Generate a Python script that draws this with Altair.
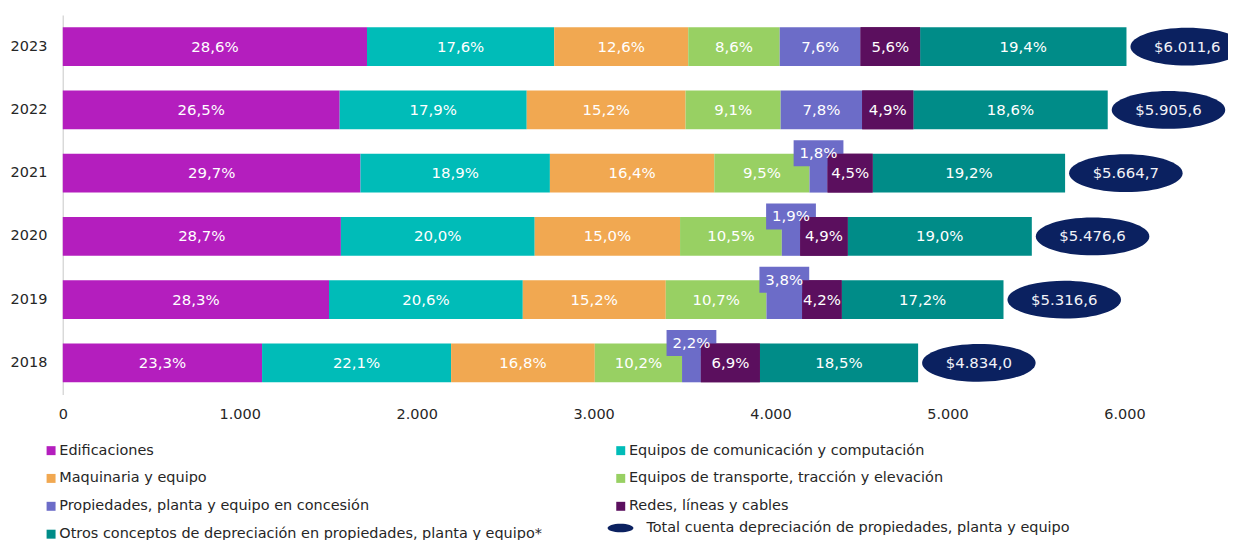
import altair as alt
import pandas as pd

years = ["2023", "2022", "2021", "2020", "2019", "2018"]
categories = [
    "Edificaciones",
    "Equipos de comunicación y computación",
    "Maquinaria y equipo",
    "Equipos de transporte, tracción y elevación",
    "Propiedades, planta y equipo en concesión",
    "Redes, líneas y cables",
    "Otros conceptos de depreciación en propiedades, planta y equipo*",
]
colors = ["#B41EBE", "#00BCB8", "#F1A851", "#98D063", "#6C6CC8", "#5B0F5E", "#008C88"]
navy = "#0B2160"
total_name = "Total cuenta depreciación de propiedades, planta y equipo"

totals = [6011.6, 5905.6, 5664.7, 5476.6, 5316.6, 4834.0]
pct_edif = [28.6, 26.5, 29.7, 28.7, 28.3, 23.3]
pct_comun = [17.6, 17.9, 18.9, 20.0, 20.6, 22.1]
pct_maq = [12.6, 15.2, 16.4, 15.0, 15.2, 16.8]
pct_transp = [8.6, 9.1, 9.5, 10.5, 10.7, 10.2]
pct_conc = [7.6, 7.8, 1.8, 1.9, 3.8, 2.2]
pct_redes = [5.6, 4.9, 4.5, 4.9, 4.2, 6.9]
pct_otros = [19.4, 18.6, 19.2, 19.0, 17.2, 18.5]
callout_years = ["2021", "2020", "2019", "2018"]

series = [pct_edif, pct_comun, pct_maq, pct_transp, pct_conc, pct_redes, pct_otros]

rows = []
for ci, (cat, vals) in enumerate(zip(categories, series)):
    for yi, yr in enumerate(years):
        p = vals[yi]
        rows.append({
            "year": yr,
            "cat": cat,
            "order": ci,
            "value": p * totals[yi] / 100.0,
            "label": f"{p:.1f}%".replace(".", ","),
            "callout": bool(ci == 4 and yr in callout_years),
        })
df = pd.DataFrame(rows)


def fmt_total(v):
    s = f"{v:,.1f}"
    return "$" + s.replace(",", "#").replace(".", ",").replace("#", ".")


tot = pd.DataFrame({
    "year": years,
    "total": totals,
    "label": [fmt_total(t) for t in totals],
    "name": [total_name] * len(years),
})

FONT = "DejaVu Sans"
rect_path = "M -1 -0.52 L 1 -0.52 L 1 0.52 L -1 0.52 Z"
ellipse_path = "M -1 0 A 1 0.333 0 1 1 1 0 A 1 0.333 0 1 1 -1 0 Z"

xscale = alt.Scale(domain=[0, 6000], nice=False)
xaxis = alt.Axis(
    title=None, values=[0, 1000, 2000, 3000, 4000, 5000, 6000],
    labelExpr="replace(format(datum.value, ','), ',', '.')",
    domain=False, ticks=False, grid=False, labelPadding=13, labelFlush=False,
    labelFontSize=14.5, labelColor="#262626", labelFont=FONT,
)
yscale = alt.Scale(paddingInner=0.386, paddingOuter=0.193)
yaxis = alt.Axis(
    title=None, ticks=False, domainColor="#D9D9D9", domainWidth=1.5,
    labelPadding=16, labelFontSize=14.5, labelColor="#262626", labelFont=FONT,
)


def Y():
    return alt.Y("year:N", sort=years, scale=yscale, axis=yaxis)


base = alt.Chart(df).transform_stack(
    stack="value", as_=["x0", "x1"], groupby=["year"],
    sort=[alt.SortField("order", order="ascending")],
).transform_calculate(mid="(datum.x0 + datum.x1) / 2")

bars = base.mark_bar().encode(
    x=alt.X("x0:Q", scale=xscale, axis=xaxis),
    x2="x1:Q",
    y=Y(),
    color=alt.Color(
        "cat:N",
        scale=alt.Scale(domain=categories, range=colors),
        legend=alt.Legend(
            orient="none", legendX=-19, legendY=430, columns=2,
            direction="horizontal",
            columnPadding=71, rowPadding=13, symbolType="square",
            symbolSize=81, symbolStrokeWidth=0, labelFontSize=14.5,
            labelFont=FONT, labelColor="#262626", labelOffset=1,
            labelLimit=700, title=None,
        ),
    ),
)

boxes = base.transform_filter("datum.callout").mark_point(
    shape=rect_path, size=2500, filled=True, opacity=1, fill=colors[4],
    strokeWidth=0, yOffset=-20,
).encode(x=alt.X("mid:Q", scale=xscale, axis=xaxis), y=Y())

redes_top = base.transform_filter(
    alt.datum.cat == categories[5]
).mark_bar(color=colors[5]).encode(
    x=alt.X("x0:Q", scale=xscale, axis=xaxis), x2="x1:Q", y=Y()
)

labels = base.transform_filter("!datum.callout").mark_text(
    color="white", fontSize=15, font=FONT,
).encode(x=alt.X("mid:Q", scale=xscale, axis=xaxis), y=Y(), text="label:N")

callout_labels = base.transform_filter("datum.callout").mark_text(
    color="white", fontSize=15, font=FONT, yOffset=-20,
).encode(x=alt.X("mid:Q", scale=xscale, axis=xaxis), y=Y(), text="label:N")

ellipses = alt.Chart(tot).mark_point(
    size=12996, filled=True, opacity=1, fill=navy, strokeWidth=0, xOffset=61,
).encode(
    x=alt.X("total:Q", scale=xscale, axis=xaxis),
    y=Y(),
    shape=alt.Shape(
        "name:N",
        scale=alt.Scale(domain=[total_name], range=[ellipse_path]),
        legend=alt.Legend(
            orient="none", legendX=547, legendY=502, symbolSize=676,
            symbolFillColor=navy, symbolStrokeWidth=0, labelFontSize=14.5,
            labelFont=FONT, labelColor="#262626", labelOffset=13,
            labelLimit=700, title=None,
        ),
    ),
)

ellipse_text = alt.Chart(tot).mark_text(
    color="#F2F2F7", fontSize=15, font=FONT, xOffset=61,
).encode(x=alt.X("total:Q", scale=xscale, axis=xaxis), y=Y(), text="label:N")

chart = alt.layer(
    bars, boxes, redes_top, labels, callout_labels, ellipses, ellipse_text
).properties(
    width=1066, height=381,
    autosize=alt.AutoSizeParams(type="none"),
    padding={"left": 55, "top": 6, "right": 104, "bottom": 145},
).configure(font=FONT).configure_view(stroke=None)

chart.save("out.html", embed_options={"renderer": "svg", "actions": False})
